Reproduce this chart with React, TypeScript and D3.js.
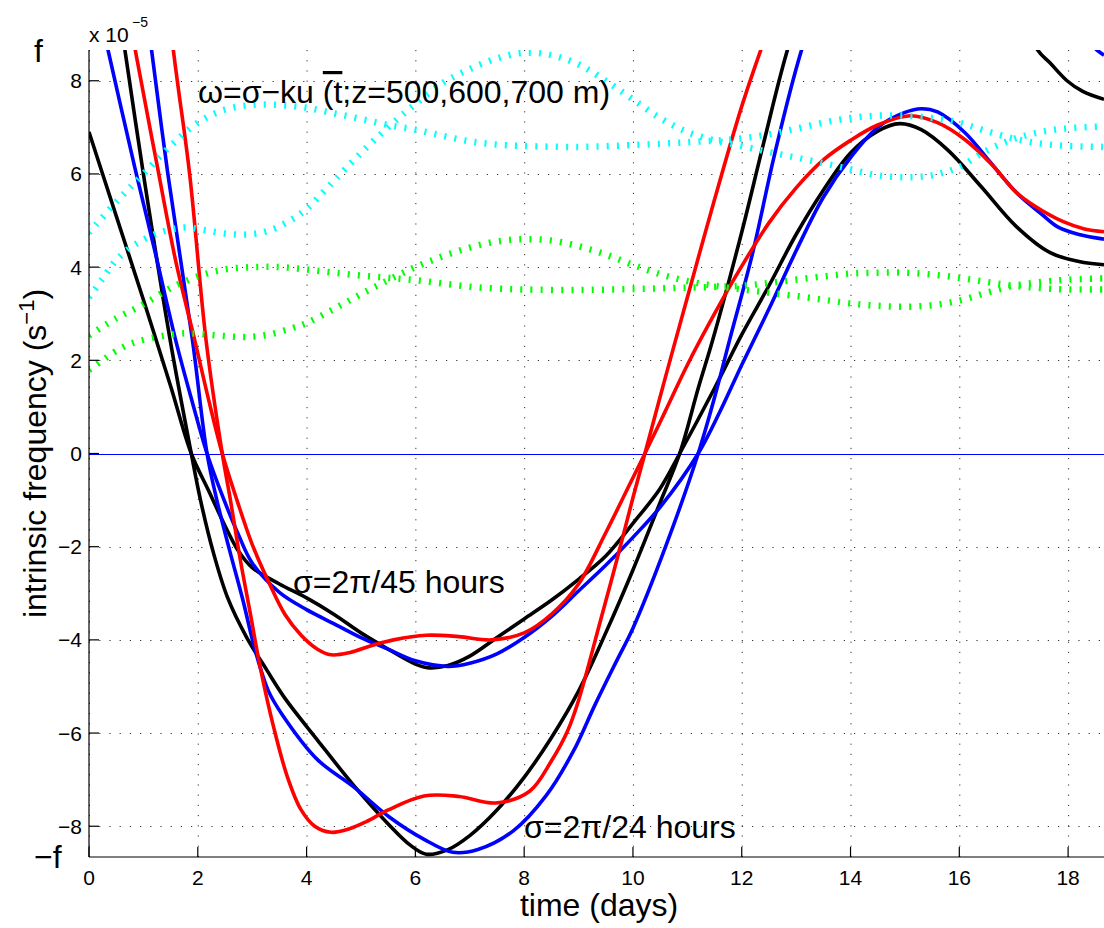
import React from 'react';
import * as d3 from 'd3';

const W = 1104;
const H = 928;
const F = 8.66; // f, in units of 1e-5 s^-1

const xTicks = [0, 2, 4, 6, 8, 10, 12, 14, 16, 18];
const yTicks = [-8, -6, -4, -2, 0, 2, 4, 6, 8];

type P = [number, number][];

// sigma = 2pi/45 hours
const black45: P = [
  [0, 6.9], [0.5, 5.1], [1.0, 3.3], [1.5, 1.45], [1.88, 0], [2.2, -0.8], [2.5, -1.55], [2.75, -2.1],
  [3.0, -2.45], [3.5, -2.8], [4.0, -3.1], [4.5, -3.45], [5.0, -3.85], [5.5, -4.2], [6.0, -4.52],
  [6.25, -4.6], [6.6, -4.55], [7.0, -4.35], [7.5, -3.95], [8.0, -3.55], [8.5, -3.15], [9.0, -2.7],
  [9.5, -2.2], [10.0, -1.5], [10.5, -0.75], [10.86, 0], [11.5, 1.4], [12.0, 2.55], [12.5, 3.6],
  [13.0, 4.7], [13.5, 5.65], [14.0, 6.45], [14.5, 6.92], [14.9, 7.08], [15.3, 6.95], [15.8, 6.5],
  [16.4, 5.73], [17.05, 4.87], [17.67, 4.31], [18.2, 4.12], [18.66, 4.05],
];
const blue45: P = [
  [0, 10.5], [0.35, 8.66], [0.85, 6.1], [1.2, 4.4], [1.6, 2.4], [1.9, 1.1], [2.17, 0], [2.45, -0.9],
  [2.75, -1.75], [3.0, -2.35], [3.5, -2.98], [4.0, -3.35], [4.5, -3.65], [5.0, -3.95], [5.5, -4.2],
  [6.0, -4.45], [6.6, -4.57], [7.0, -4.5], [7.5, -4.3], [8.0, -3.95], [8.5, -3.5], [9.0, -2.95],
  [9.5, -2.4], [10.0, -1.8], [10.5, -1.15], [11.2, 0], [11.6, 0.9], [12.0, 1.9], [12.5, 3.1],
  [13.0, 4.35], [13.5, 5.5], [14.0, 6.35], [14.5, 7.0], [15.0, 7.32], [15.3, 7.4], [15.6, 7.33],
  [16.1, 6.89], [16.5, 6.35], [17.05, 5.6], [17.5, 5.15], [17.8, 4.87], [18.2, 4.7], [18.66, 4.6],
];
const red45: P = [
  [0, 14.3], [0.85, 8.66], [1.25, 6.2], [1.6, 4.1], [1.95, 2.4], [2.2, 1.15], [2.45, 0], [2.72, -1.0],
  [3.0, -1.95], [3.3, -2.75], [3.6, -3.45], [3.9, -3.9], [4.2, -4.2], [4.45, -4.32], [4.8, -4.27],
  [5.2, -4.12], [5.6, -4.0], [6.2, -3.9], [6.8, -3.93], [7.4, -4.0], [8.0, -3.85], [8.5, -3.45],
  [9.0, -2.8], [9.5, -1.7], [10.0, -0.52], [10.22, 0], [10.6, 0.92], [11.0, 1.9], [11.5, 3.0],
  [12.0, 4.02], [12.5, 4.95], [13.0, 5.7], [13.5, 6.3], [14.0, 6.72], [14.5, 7.05], [15.1, 7.25],
  [15.6, 7.1], [16.1, 6.74], [16.6, 6.2], [17.05, 5.6], [17.4, 5.3], [17.9, 4.98], [18.3, 4.82],
  [18.66, 4.76],
];

// sigma = 2pi/24 hours
const black24: P = [
  [0, 13.8], [0.66, 8.66], [1.0, 6.0], [1.49, 2.45], [1.88, 0], [2.05, -1.0], [2.28, -2.1],
  [2.55, -3.1], [2.9, -3.95], [3.27, -4.65], [3.6, -5.25], [4.2, -6.15], [4.85, -7.1], [5.5, -7.95],
  [5.9, -8.4], [6.2, -8.6], [6.6, -8.5], [7.0, -8.2], [7.5, -7.65], [8.0, -6.95], [8.5, -6.1],
  [9.0, -5.1], [9.5, -3.85], [10.0, -2.5], [10.5, -1.05], [10.86, 0], [11.2, 1.4], [11.47, 2.45],
  [12.0, 4.75], [12.4, 6.65], [12.84, 8.66], [13.5, 11], [14.5, 13], [15.5, 13], [16.5, 11],
  [17.0, 9.8], [17.44, 8.66], [17.67, 8.38], [17.98, 8.0], [18.27, 7.77], [18.66, 7.6],
];
const blue24: P = [
  [0, 19], [1.15, 8.66], [1.45, 6.0], [1.9, 2.45], [2.17, 0], [2.35, -1.0], [2.59, -2.1],
  [2.83, -3.15], [3.05, -4.2], [3.3, -5.1], [3.55, -5.6], [4.2, -6.57], [4.86, -7.15], [5.52, -7.8],
  [6.16, -8.28], [6.69, -8.56], [7.15, -8.5], [7.8, -8.1], [8.4, -7.35], [8.9, -6.4], [9.3, -5.4],
  [9.7, -4.45], [10.0, -3.75], [10.6, -2.0], [11.2, 0], [11.5, 1.2], [11.78, 2.45], [12.2, 4.3],
  [12.6, 6.4], [13.1, 8.66], [13.8, 11], [15.0, 13], [16.0, 12.3], [17.0, 10.5], [17.5, 9.8],
  [18.0, 9.25], [18.53, 8.66], [18.66, 8.55],
];
const red24: P = [
  [0, 24], [1.55, 8.66], [1.85, 6.0], [2.15, 2.45], [2.45, 0], [2.6, -1.0], [2.78, -2.27],
  [2.96, -3.4], [3.15, -4.6], [3.4, -5.9], [3.65, -6.95], [3.9, -7.65], [4.15, -8.0], [4.45, -8.13],
  [4.8, -8.05], [5.1, -7.9], [5.5, -7.65], [6.16, -7.35], [6.8, -7.36], [7.48, -7.5], [8.1, -7.25],
  [8.5, -6.6], [8.8, -5.95], [9.0, -5.3], [9.4, -3.6], [9.7, -2.3], [10.0, -0.95], [10.22, 0],
  [10.6, 1.65], [11.0, 3.35], [11.5, 5.45], [12.0, 7.45], [12.35, 8.66], [12.8, 10.1],
  [13.5, 12],
];

// omega = sigma - k u(t; z)  (dotted)
const cyanA: P = [
  [0, 4.74], [0.5, 5.4], [1.0, 6.0], [1.5, 6.6], [2.0, 7.1], [2.5, 7.38], [3.0, 7.48], [3.5, 7.48],
  [4.0, 7.42], [4.5, 7.3], [5.0, 7.18], [5.5, 7.05], [6.0, 6.95], [6.5, 6.82], [7.0, 6.7],
  [7.5, 6.63], [8.0, 6.6], [9.0, 6.58], [10.0, 6.62], [11.0, 6.68], [11.9, 6.75], [12.5, 6.85],
  [13.0, 6.97], [13.5, 7.1], [14.0, 7.2], [14.5, 7.25], [15.0, 7.25], [15.5, 7.2], [16.0, 7.1],
  [16.5, 6.92], [17.0, 6.76], [17.5, 6.65], [18.0, 6.6], [18.66, 6.58],
];
const cyanB: P = [
  [0, 3.35], [0.25, 3.75], [0.5, 4.15], [0.8, 4.45], [1.25, 4.72], [1.75, 4.85], [2.1, 4.8],
  [2.5, 4.72], [2.9, 4.7], [3.3, 4.78], [3.7, 5.0], [4.0, 5.25], [4.5, 5.85], [5.0, 6.45],
  [5.5, 7.0], [6.0, 7.5], [6.5, 7.95], [7.0, 8.25], [7.5, 8.48], [8.0, 8.6], [8.5, 8.55], [9.0, 8.35],
  [9.5, 8.0], [10.0, 7.6], [10.5, 7.2], [11.0, 6.9], [11.5, 6.72], [12.0, 6.6], [12.5, 6.47],
  [13.0, 6.35], [13.5, 6.23], [14.0, 6.1], [14.5, 5.97], [15.0, 5.93], [15.5, 5.97], [16.0, 6.15],
  [16.5, 6.5], [17.0, 6.75], [17.5, 6.9], [18.0, 6.98], [18.66, 7.02],
];
const greenA: P = [
  [0, 2.53], [0.5, 2.9], [1.0, 3.2], [1.5, 3.55], [2.0, 3.8], [2.5, 3.95], [3.0, 4.0], [3.5, 4.0],
  [4.0, 3.95], [4.5, 3.88], [5.0, 3.82], [5.5, 3.77], [6.0, 3.72], [6.5, 3.65], [7.0, 3.58],
  [7.5, 3.54], [8.0, 3.52], [9.0, 3.51], [10.0, 3.53], [11.0, 3.56], [12.0, 3.6], [12.5, 3.66],
  [13.0, 3.73], [13.5, 3.8], [14.0, 3.86], [14.5, 3.88], [15.0, 3.88], [15.5, 3.84], [16.0, 3.77],
  [16.5, 3.68], [17.0, 3.6], [17.5, 3.55], [18.0, 3.52], [18.66, 3.52],
];
const greenB: P = [
  [0, 1.79], [0.25, 2.0], [0.5, 2.2], [0.8, 2.37], [1.25, 2.5], [1.75, 2.58], [2.1, 2.56],
  [2.5, 2.52], [2.9, 2.5], [3.3, 2.55], [3.7, 2.68], [4.0, 2.8], [4.5, 3.1], [5.0, 3.42],
  [5.5, 3.72], [6.0, 4.0], [6.5, 4.23], [7.0, 4.42], [7.5, 4.55], [8.0, 4.6], [8.5, 4.57],
  [9.0, 4.45], [9.5, 4.27], [10.0, 4.05], [10.5, 3.85], [11.0, 3.7], [11.5, 3.6], [12.0, 3.52],
  [12.5, 3.45], [13.0, 3.38], [13.5, 3.3], [14.0, 3.22], [14.5, 3.17], [15.0, 3.15], [15.5, 3.18],
  [16.0, 3.28], [16.5, 3.45], [17.0, 3.6], [17.5, 3.68], [18.0, 3.73], [18.66, 3.76],
];

const solidSeries = [
  { data: black45, color: '#000000' },
  { data: black24, color: '#000000' },
  { data: blue45, color: '#0000ff' },
  { data: blue24, color: '#0000ff' },
  { data: red45, color: '#ff0000' },
  { data: red24, color: '#ff0000' },
];
const dottedSeries = [
  { data: greenA, color: '#00ff00' },
  { data: greenB, color: '#00ff00' },
  { data: cyanA, color: '#00ffff' },
  { data: cyanB, color: '#00ffff' },
];

const PL = 89, PR = 1104, PT = 50, PB = 857;
const FONT = "'Liberation Sans', Arial, Helvetica, sans-serif";

export default function App() {
  const x = d3.scaleLinear().domain([0, 18.66]).range([PL, PR]);
  const y = d3.scaleLinear().domain([-F, F]).range([PB, PT]);
  const line = d3
    .line<[number, number]>()
    .x((d) => x(d[0]))
    .y((d) => y(d[1]))
    .curve(d3.curveCatmullRom.alpha(0.5));

  return (
    <svg
      width={W}
      height={H}
      style={{ position: 'absolute', left: 0, top: 0, background: '#fff' }}
      fontFamily={FONT}
    >
      <defs>
        <clipPath id="plot">
          <rect x={PL} y={PT} width={PR - PL} height={PB - PT} />
        </clipPath>
      </defs>
      <rect x={0} y={0} width={W} height={H} fill="#fff" />

      {/* grid */}
      <g stroke="#333" strokeWidth={1} strokeDasharray="1.2 9">
        {xTicks.map((t) => (
          <line key={'gx' + t} x1={x(t) + 0.5} x2={x(t) + 0.5} y1={PB} y2={PT} />
        ))}
        {yTicks.map((t) => (
          <line key={'gy' + t} x1={PL} x2={PR} y1={Math.round(y(t)) + 0.5} y2={Math.round(y(t)) + 0.5} />
        ))}
      </g>

      {/* zero line */}
      <line x1={PL} x2={PR} y1={Math.round(y(0)) + 0.5} y2={Math.round(y(0)) + 0.5} stroke="#0000ff" strokeWidth={1.2} />

      <g clipPath="url(#plot)" fill="none">
        {solidSeries.map((s, i) => (
          <path key={'s' + i} d={line(s.data) || ''} stroke={s.color} strokeWidth={3.6} strokeLinejoin="round" />
        ))}
        {dottedSeries.map((s, i) => (
          <path key={'d' + i} d={line(s.data) || ''} stroke={s.color} strokeWidth={6.5} strokeDasharray="2 8.2" />
        ))}
      </g>

      {/* axes */}
      <g stroke="#000" strokeWidth={1.2}>
        <line x1={PL} x2={PL} y1={PT} y2={PB} />
        <line x1={PL} x2={PR} y1={PB} y2={PB} />
        {xTicks.map((t) => (
          <line key={'tx' + t} x1={x(t)} x2={x(t)} y1={PB} y2={PB - 10} />
        ))}
        {yTicks.map((t) => (
          <line key={'ty' + t} x1={PL} x2={PL + 10} y1={y(t)} y2={y(t)} />
        ))}
      </g>

      {/* tick labels */}
      <g fontSize={21} fill="#000">
        {xTicks.map((t) => (
          <text key={'lx' + t} x={x(t)} y={885} textAnchor="middle">
            {String(t)}
          </text>
        ))}
        {yTicks.map((t) => (
          <text key={'ly' + t} x={82} y={y(t) + 7.5} textAnchor="end">
            {t < 0 ? '\u2212' + Math.abs(t) : String(t)}
          </text>
        ))}
      </g>

      <text x={89} y={42} fontSize={21}>x 10</text>
      <text x={132} y={27} fontSize={14}>{'\u22125'}</text>

      <text x={34} y={62} fontSize={32}>f</text>
      <text x={34} y={868} fontSize={32}>{'\u2212f'}</text>

      <text x={599} y={916} fontSize={32} textAnchor="middle">time (days)</text>
      <text transform={`translate(46,${(PT + PB) / 2}) rotate(-90)`} fontSize={32} textAnchor="middle">
        intrinsic frequency (s
        <tspan dy={-12} fontSize={22}>{'\u22121'}</tspan>
        <tspan dy={12}>)</tspan>
      </text>

      <text x={198} y={103} fontSize={32}>
        {'\u03c9=\u03c3\u2212ku '}
        <tspan textDecoration="overline">(t</tspan>
        {';z=500,600,700 m)'}
      </text>
      <text x={293} y={593} fontSize={32}>{'\u03c3=2\u03c0/45 hours'}</text>
      <text x={524} y={838} fontSize={32}>{'\u03c3=2\u03c0/24 hours'}</text>
    </svg>
  );
}
